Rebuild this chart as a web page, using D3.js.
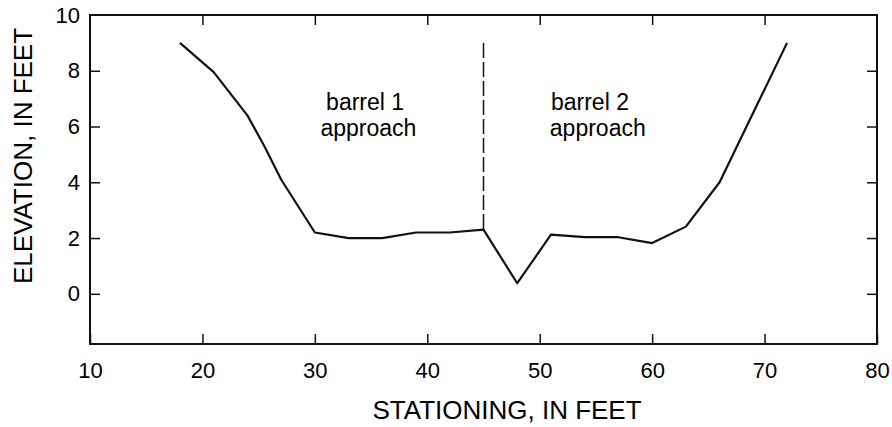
<!DOCTYPE html>
<html>
<head>
<meta charset="utf-8">
<script src="https://cdn.jsdelivr.net/npm/d3@7"></script>
<style>
  html, body { margin: 0; padding: 0; background: #fff; }
  svg { display: block; }
  text { font-family: "Liberation Sans", Arial, Helvetica, sans-serif; fill: #000; }
</style>
</head>
<body>
<svg id="chart" width="892" height="427"></svg>
<script>
// ---- data ----
const stationing = [18, 21, 24, 25.5, 27, 30, 33, 36, 39, 42, 45, 48, 51, 54, 57, 60, 63, 66, 69, 72];
const elevation  = [9.0, 7.95, 6.4, 5.3, 4.1, 2.2, 2.0, 2.0, 2.2, 2.2, 2.3, 0.38, 2.12, 2.03, 2.03, 1.82, 2.41, 4.0, 6.5, 9.0];
const divider = { station: 45, top: 9.0, bottom: 2.3 };
const xTicks = [10, 20, 30, 40, 50, 60, 70, 80];
const yTicks = [0, 2, 4, 6, 8, 10];
const annotations = [
  { lines: ["barrel 1", "approach"], stations: [31.0, 30.5], elev: 6.6 },
  { lines: ["barrel 2", "approach"], stations: [51.0, 50.9], elev: 6.6 }
];
const xTitle = "STATIONING, IN FEET";
const yTitle = "ELEVATION, IN FEET";

// ---- layout ----
const svg = d3.select("#chart");
const x = d3.scaleLinear().domain([10, 80]).range([90, 877]);
const y = d3.scaleLinear().domain([-1.8, 10]).range([344, 15]);

// frame
svg.append("rect")
  .attr("x", x(10)).attr("y", y(10))
  .attr("width", x(80) - x(10)).attr("height", y(-1.8) - y(10))
  .attr("fill", "none").attr("stroke", "#111").attr("stroke-width", 2);

function styleAxis(g) {
  g.select(".domain").remove();
  g.selectAll(".tick line").attr("stroke", "#111").attr("stroke-width", 1.5);
  g.selectAll(".tick text").style("font-size", "22px").attr("fill", "#000");
}

// bottom axis
svg.append("g").attr("transform", `translate(0,${y(-1.8)})`)
  .call(d3.axisBottom(x).tickValues(xTicks).tickSizeInner(-10).tickSizeOuter(0).tickPadding(18).tickFormat(d3.format("d")))
  .call(styleAxis);
// top axis (ticks only)
svg.append("g").attr("transform", `translate(0,${y(10)})`)
  .call(d3.axisTop(x).tickValues(xTicks.slice(1, -1)).tickSizeInner(-10).tickSizeOuter(0).tickFormat(""))
  .call(styleAxis);
// left axis
svg.append("g").attr("transform", `translate(${x(10)},0)`)
  .call(d3.axisLeft(y).tickValues(yTicks).tickSizeInner(-10).tickSizeOuter(0).tickPadding(10).tickFormat(d3.format("d")))
  .call(styleAxis)
  .call(g => g.selectAll(".tick").filter(d => d === 10).select("line").remove());
// right axis (ticks only)
svg.append("g").attr("transform", `translate(${x(80)},0)`)
  .call(d3.axisRight(y).tickValues(yTicks.filter(d => d < 10)).tickSizeInner(-10).tickSizeOuter(0).tickFormat(""))
  .call(styleAxis);

// divider dashed line
svg.append("line")
  .attr("x1", x(divider.station)).attr("x2", x(divider.station))
  .attr("y1", y(divider.top)).attr("y2", y(divider.bottom))
  .attr("stroke", "#111").attr("stroke-width", 1.5)
  .attr("stroke-dasharray", "15,4");

// profile line
const pts = stationing.map((s, i) => [s, elevation[i]]);
svg.append("path")
  .datum(pts)
  .attr("fill", "none").attr("stroke", "#111").attr("stroke-width", 2.2)
  .attr("stroke-linejoin", "round")
  .attr("d", d3.line().x(d => x(d[0])).y(d => y(d[1])));

// annotations
annotations.forEach(a => {
  const t = svg.append("text")
    .attr("y", y(a.elev))
    .style("font-size", "23px");
  a.lines.forEach((ln, i) => {
    t.append("tspan")
      .attr("x", x(a.stations[i]))
      .attr("dy", i === 0 ? 0 : 26)
      .text(ln);
  });
});

// axis titles
svg.append("text")
  .attr("x", 507).attr("y", 419)
  .attr("text-anchor", "middle")
  .style("font-size", "26px")
  .text(xTitle);

svg.append("text")
  .attr("transform", `translate(32,156) rotate(-90)`)
  .attr("text-anchor", "middle")
  .style("font-size", "26px")
  .text(yTitle);
</script>
</body>
</html>
